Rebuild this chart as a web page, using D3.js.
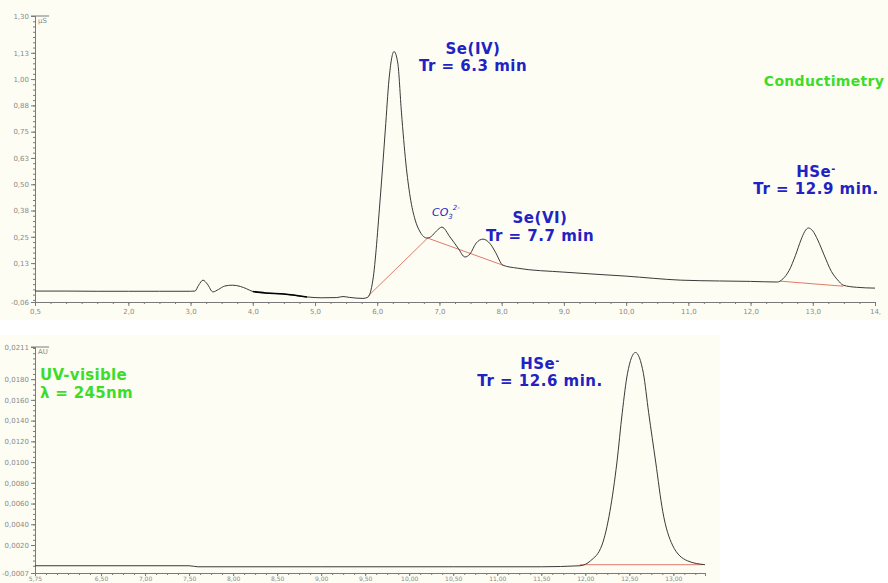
<!DOCTYPE html>
<html>
<head>
<meta charset="utf-8">
<script src="https://cdn.jsdelivr.net/npm/d3@7"></script>
<style>
  html, body { margin: 0; padding: 0; background: #ffffff; }
  svg { display: block; }
  .tick-label { font-family: "DejaVu Sans", sans-serif; font-size: 7px; fill: #8a8a8a; }
  .peak { font-family: "DejaVu Sans", sans-serif; font-weight: bold; fill: #2222c4; letter-spacing: 0.5px; }
  .method { font-family: "DejaVu Sans", sans-serif; font-weight: bold; fill: #3ddc2a; letter-spacing: 0.3px; }
</style>
</head>
<body>
<svg id="chart" width="888" height="583"></svg>
<script>
// ---- Conductimetry trace (time in min, signal in µS) ----
const condTime = [0.5, 1.0, 1.5, 2.0, 2.5, 3.0, 3.07, 3.13, 3.2, 3.27, 3.36, 3.45, 3.55, 3.67, 3.8, 3.9,
  4.0, 4.2, 4.5, 4.87, 5.1, 5.35, 5.45, 5.55, 5.77, 5.85, 5.93, 6.05, 6.13, 6.19, 6.27, 6.33, 6.39,
  6.46, 6.53, 6.61, 6.69, 6.80, 6.87, 6.95, 7.04, 7.17, 7.30, 7.41, 7.49, 7.59, 7.70, 7.82, 7.90,
  8.02, 8.25, 9.0, 10.0, 10.87, 11.5, 12.0, 12.43, 12.52, 12.62, 12.72, 12.81, 12.87, 12.93, 13.0,
  13.08, 13.18, 13.3, 13.4, 13.49, 13.7, 14.0];
const condSignal = [-0.008, -0.008, -0.009, -0.009, -0.009, -0.009, -0.008, 0.02, 0.044, 0.025, -0.012, 0.0, 0.016, 0.02, 0.014, 0.003,
  -0.01, -0.017, -0.022, -0.036, -0.04, -0.039, -0.034, -0.038, -0.043, -0.037, 0.044, 0.439, 0.758, 1.0, 1.131, 1.077, 0.839,
  0.601, 0.439, 0.33, 0.273, 0.244, 0.252, 0.277, 0.296, 0.249, 0.196, 0.154, 0.168, 0.22, 0.239, 0.215, 0.177,
  0.115, 0.101, 0.082, 0.063, 0.044, 0.04, 0.038, 0.035, 0.05, 0.09, 0.16, 0.235, 0.275, 0.292, 0.278,
  0.235, 0.165, 0.085, 0.045, 0.02, 0.01, 0.006];
// stretch of the recording plotted in a heavier black stroke
const condBoldRange = [4.0, 4.87];
// integration baselines (red)
const condBase1Time = [5.85, 6.81, 8.02];
const condBase1Signal = [-0.033, 0.244, 0.115];
const condBase2Time = [12.48, 13.49];
const condBase2Signal = [0.039, 0.015];

// ---- UV-visible trace (time in min, absorbance in AU) ----
const uvTime = [5.75, 6.5, 7.5, 7.6, 9.0, 10.5, 11.5, 11.94, 12.06, 12.19, 12.28, 12.36, 12.42, 12.48,
  12.57, 12.66, 12.72, 12.80, 12.88, 12.99, 13.16, 13.36];
const uvSignal = [0.0000, 0.0000, 0.0000, -0.0001, -0.0001, -0.0001, -0.0001, 0.0000, 0.00048, 0.0020, 0.00524, 0.0100, 0.01476, 0.01857,
  0.02057, 0.01857, 0.01476, 0.0100, 0.00524, 0.0020, 0.00048, 0.0001];
const uvBaseTime = [11.94, 13.33];
const uvBaseSignal = [0.0001, 0.0001];

// ---- axis ticks ----
const condXTicks = [0.5, 2, 3, 4, 5, 6, 7, 8, 9, 10, 11, 12, 13, 14];
const condXLabels = ["0,5", "2,0", "3,0", "4,0", "5,0", "6,0", "7,0", "8,0", "9,0", "10,0", "11,0", "12,0", "13,0", "14,"];
const condYTicks = [1.30, 1.125, 1.0, 0.875, 0.75, 0.625, 0.5, 0.375, 0.25, 0.125, -0.06];
const condYLabels = ["1,30", "1,13", "1,00", "0,88", "0,75", "0,63", "0,50", "0,38", "0,25", "0,13", "-0,06"];
const uvXTicks = [5.75, 6.5, 7, 7.5, 8, 8.5, 9, 9.5, 10, 10.5, 11, 11.5, 12, 12.5, 13];
const uvXLabels = ["5,75", "6,50", "7,00", "7,50", "8,00", "8,50", "9,00", "9,50", "10,00", "10,50", "11,00", "11,50", "12,00", "12,50", "13,00"];
const uvYTicks = [0.0211, 0.018, 0.016, 0.014, 0.012, 0.010, 0.008, 0.006, 0.004, 0.002, -0.0007];
const uvYLabels = ["0,0211", "0,0180", "0,0160", "0,0140", "0,0120", "0,0100", "0,0080", "0,0060", "0,0040", "0,0020", "-0,0007"];

const svg = d3.select("#chart");
const axisColor = "#7a7a7a";
const traceColor = "#3a3a3a";
const baseColor = "#e07a6c";

function drawPanel(cfg) {
  const x = d3.scaleLinear().domain(cfg.xDomain).range(cfg.xRange);
  const y = d3.scaleLinear().domain(cfg.yDomain).range(cfg.yRange);
  const g = svg.append("g");

  // plot background
  g.append("rect")
    .attr("x", cfg.bg[0]).attr("y", cfg.bg[1])
    .attr("width", cfg.bg[2]).attr("height", cfg.bg[3])
    .attr("fill", "#fdfdf3");

  // x axis with minor ticks
  const xMinor = d3.range(cfg.xMinor[0], cfg.xDomain[1] + 1e-9, cfg.xMinor[1]);
  const xAxisMinor = d3.axisBottom(x).tickValues(xMinor).tickSize(2).tickFormat("");
  g.append("g").attr("transform", `translate(0,${cfg.yRange[0]})`).call(xAxisMinor)
    .call(a => a.selectAll("line, path").attr("stroke", axisColor));
  const xAxis = d3.axisBottom(x).tickValues(cfg.xTicks).tickSize(cfg.xTickSize).tickPadding(cfg.xPad)
    .tickFormat((d, i) => cfg.xLabels[i]);
  g.append("g").attr("transform", `translate(0,${cfg.yRange[0]})`).call(xAxis)
    .call(a => a.select(".domain").attr("stroke", axisColor))
    .call(a => a.selectAll("line").attr("stroke", axisColor))
    .call(a => a.selectAll("text").attr("class", "tick-label").attr("fill", null)
      .style("font-size", cfg.xFont + "px"));

  // y axis with minor ticks
  const yMinor = d3.range(cfg.yMinor[0], cfg.yDomain[1], cfg.yMinor[1]);
  const yAxisMinor = d3.axisLeft(y).tickValues(yMinor).tickSize(2).tickFormat("");
  g.append("g").attr("transform", `translate(${cfg.xRange[0]},0)`).call(yAxisMinor)
    .call(a => a.selectAll("line, path").attr("stroke", axisColor));
  const yAxis = d3.axisLeft(y).tickValues(cfg.yTicks).tickSize(4).tickPadding(2)
    .tickFormat((d, i) => cfg.yLabels[i]);
  g.append("g").attr("transform", `translate(${cfg.xRange[0]},0)`).call(yAxis)
    .call(a => a.select(".domain").attr("stroke", axisColor))
    .call(a => a.selectAll("line").attr("stroke", axisColor))
    .call(a => a.selectAll("text").attr("class", "tick-label").attr("fill", null));

  // top frame stub and unit
  g.append("line")
    .attr("x1", cfg.xRange[0] - 4).attr("x2", cfg.xRange[0] + 14)
    .attr("y1", cfg.yRange[1]).attr("y2", cfg.yRange[1])
    .attr("stroke", axisColor);
  g.append("text").attr("class", "tick-label")
    .attr("x", cfg.xRange[0] + 3).attr("y", cfg.yRange[1] + 7)
    .text(cfg.unit);

  // straight integration baselines, smooth detector trace
  const baseLine = d3.line().x(d => x(d[0])).y(d => y(d[1])).curve(d3.curveLinear);
  cfg.baselines.forEach(b => {
    g.append("path").datum(d3.zip(b[0], b[1])).attr("d", baseLine)
      .attr("fill", "none").attr("stroke", baseColor).attr("stroke-width", 1);
  });
  const trace = d3.line().x(d => x(d[0])).y(d => y(d[1])).curve(d3.curveMonotoneX);
  const pts = d3.zip(cfg.time, cfg.signal);
  g.append("path").datum(pts).attr("d", trace)
    .attr("fill", "none").attr("stroke", traceColor).attr("stroke-width", 1);
  if (cfg.boldRange) {
    const seg = pts.filter(p => p[0] >= cfg.boldRange[0] && p[0] <= cfg.boldRange[1]);
    g.append("path").datum(seg).attr("d", trace)
      .attr("fill", "none").attr("stroke", "#000").attr("stroke-width", 1.6);
  }
  return { x, y, g };
}

const condPanel = drawPanel({
  xDomain: [0.5, 14], xRange: [35, 875],
  yDomain: [-0.06, 1.30], yRange: [302, 16],
  bg: [0, 0, 888, 320],
  xTicks: condXTicks, xLabels: condXLabels, xMinor: [0.5, 0.25],
  xTickSize: 4, xPad: 3, xFont: 7,
  yTicks: condYTicks, yLabels: condYLabels, yMinor: [-0.05, 0.025],
  unit: "µS",
  time: condTime, signal: condSignal, boldRange: condBoldRange,
  baselines: [[condBase1Time, condBase1Signal], [condBase2Time, condBase2Signal]]
});

const uvPanel = drawPanel({
  xDomain: [5.75, 13.36], xRange: [35, 705],
  yDomain: [-0.0007, 0.0211], yRange: [573, 347],
  bg: [0, 335, 720, 248],
  xTicks: uvXTicks, xLabels: uvXLabels, xMinor: [5.75, 0.125],
  xTickSize: 3, xPad: 1, xFont: 6,
  yTicks: uvYTicks, yLabels: uvYLabels, yMinor: [0.0, 0.0005],
  unit: "AU",
  time: uvTime, signal: uvSignal,
  baselines: [[uvBaseTime, uvBaseSignal]]
});

// ---- annotations ----
function label(g, lines, cx, y0, size, cls, gap) {
  lines.forEach((ln, i) => {
    const t = g.append("text").attr("class", cls).attr("x", cx).attr("y", y0 + i * gap)
      .attr("text-anchor", "middle").attr("font-size", size);
    ln.forEach(part => {
      const s = t.append("tspan").text(part.t);
      if (part.sup) s.attr("baseline-shift", "super").attr("font-size", size * 0.65);
    });
  });
}

label(condPanel.g, [[{ t: "Se(IV)" }], [{ t: "Tr = 6.3 min" }]], 473, 54, 15, "peak", 17);
label(condPanel.g, [[{ t: "Se(VI)" }], [{ t: "Tr = 7.7 min" }]], 540, 223, 15, "peak", 18);
label(condPanel.g, [[{ t: "HSe" }, { t: "-", sup: true }], [{ t: "Tr = 12.9 min." }]], 816, 177, 15, "peak", 17);
label(uvPanel.g, [[{ t: "HSe" }, { t: "-", sup: true }], [{ t: "Tr = 12.6 min." }]], 540, 369, 15, "peak", 17);

// carbonate label
const co3 = condPanel.g.append("text")
  .attr("x", 432).attr("y", 216)
  .attr("font-family", "DejaVu Sans, sans-serif").attr("font-style", "italic")
  .attr("font-size", 11).attr("fill", "#2222c4");
co3.append("tspan").text("CO");
co3.append("tspan").text("3").attr("font-size", 7).attr("dy", 3);
co3.append("tspan").text("2-").attr("font-size", 7).attr("dy", -9);

condPanel.g.append("text").attr("class", "method").attr("x", 824).attr("y", 86)
  .attr("text-anchor", "middle").attr("font-size", 14).text("Conductimetry");
uvPanel.g.append("text").attr("class", "method").attr("x", 40).attr("y", 380)
  .attr("font-size", 15).text("UV-visible");
uvPanel.g.append("text").attr("class", "method").attr("x", 40).attr("y", 398)
  .attr("font-size", 15).text("λ = 245nm");
</script>
</body>
</html>
